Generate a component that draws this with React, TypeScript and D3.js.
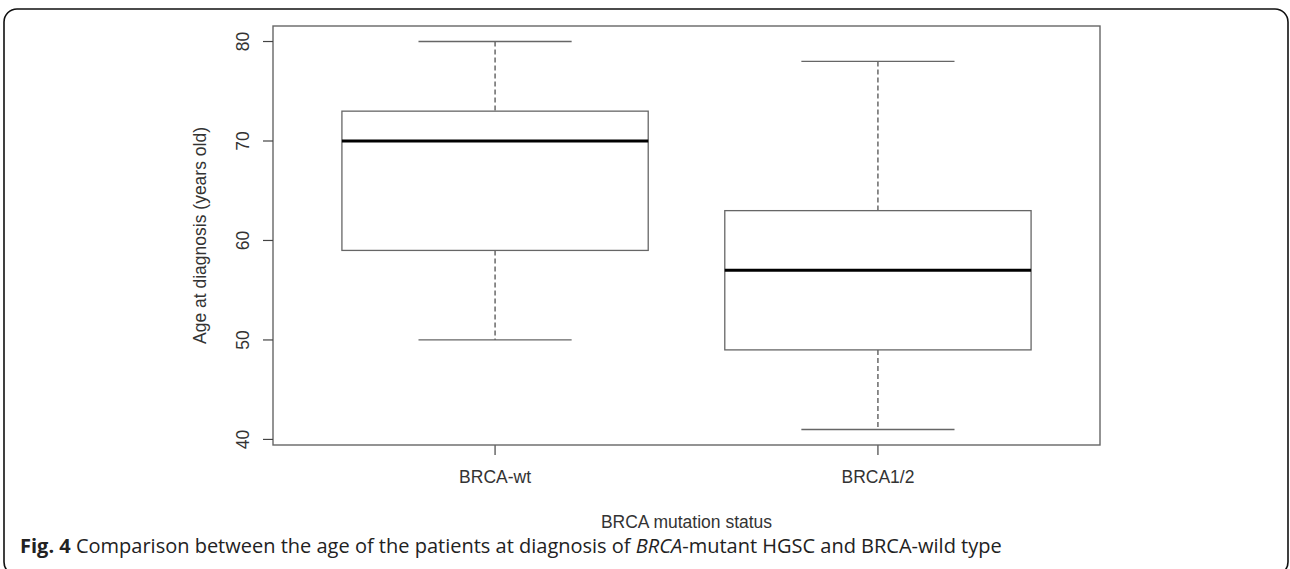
import React from "react";
import * as d3 from "d3";

const categories = ["BRCA-wt", "BRCA1/2"];
const lowerWhisker = [50, 41];
const q1 = [59, 49];
const medians = [70, 57];
const q3 = [73, 63];
const upperWhisker = [80, 78];
const yTicks = [40, 50, 60, 70, 80];

const W = 1290;
const H = 569;
const frame = { left: 273, right: 1100, top: 26, bottom: 445 };

export default function App() {
  const yMin = d3.min(lowerWhisker)!;
  const yMax = d3.max(upperWhisker)!;
  const ext = (yMax - yMin) * 0.04;
  const y = d3.scaleLinear().domain([yMin - ext, yMax + ext]).range([frame.bottom, frame.top]);
  const n = categories.length;
  const xExt = n * 0.04;
  const x = d3.scaleLinear().domain([0.5 - xExt, n + 0.5 + xExt]).range([frame.left, frame.right]);
  const halfBox = x(0.4) - x(0);
  const halfCap = x(0.2) - x(0);
  const axisFont = "'Liberation Sans', Arial, sans-serif";
  const textFill = "#333";
  const lineGray = "#666";
  const cy = (frame.top + frame.bottom) / 2;
  const cx = (frame.left + frame.right) / 2;

  return (
    <div style={{ position: "absolute", left: 0, top: 0 }}>
      <svg width={W} height={H} style={{ display: "block", background: "#fff" }}>
        <rect x={4} y={9} width={1284} height={566} rx={13} ry={13} fill="none" stroke="#111" strokeWidth={1.6} />
        {categories.map((c, i) => {
          const xc = x(i + 1);
          return (
            <g key={c}>
              <line x1={xc} x2={xc} y1={y(upperWhisker[i])} y2={y(q3[i])} stroke="#444" strokeWidth={1.2} strokeDasharray="5,3" />
              <line x1={xc} x2={xc} y1={y(q1[i])} y2={y(lowerWhisker[i])} stroke="#444" strokeWidth={1.2} strokeDasharray="5,3" />
              <line x1={xc - halfCap} x2={xc + halfCap} y1={y(upperWhisker[i])} y2={y(upperWhisker[i])} stroke={lineGray} strokeWidth={1.3} />
              <line x1={xc - halfCap} x2={xc + halfCap} y1={y(lowerWhisker[i])} y2={y(lowerWhisker[i])} stroke={lineGray} strokeWidth={1.3} />
              <rect x={xc - halfBox} y={y(q3[i])} width={2 * halfBox} height={y(q1[i]) - y(q3[i])} fill="none" stroke={lineGray} strokeWidth={1.3} />
              <line x1={xc - halfBox} x2={xc + halfBox} y1={y(medians[i])} y2={y(medians[i])} stroke="#000" strokeWidth={3} />
              <line x1={xc} x2={xc} y1={frame.bottom} y2={frame.bottom + 10} stroke="#444" strokeWidth={1.2} />
              <text x={xc} y={483} textAnchor="middle" fontFamily={axisFont} fontSize={17.5} fill={textFill}>{c}</text>
            </g>
          );
        })}
        <rect x={frame.left} y={frame.top} width={frame.right - frame.left} height={frame.bottom - frame.top} fill="none" stroke={lineGray} strokeWidth={1.4} />
        {yTicks.map((t) => (
          <g key={t}>
            <line x1={frame.left - 10} x2={frame.left} y1={y(t)} y2={y(t)} stroke="#444" strokeWidth={1.2} />
            <text transform={`translate(249,${y(t)}) rotate(-90)`} textAnchor="middle" fontFamily={axisFont} fontSize={17.5} fill={textFill}>{t}</text>
          </g>
        ))}
        <text transform={`translate(206,${cy}) rotate(-90)`} textAnchor="middle" fontFamily={axisFont} fontSize={17.5} fill={textFill}>Age at diagnosis (years old)</text>
        <text x={cx} y={528} textAnchor="middle" fontFamily={axisFont} fontSize={17.5} fill={textFill}>BRCA mutation status</text>
        <text x={20} y={553} fontFamily="'Open Sans', sans-serif" fontSize={20} fill="#222">
          <tspan fontWeight="bold">Fig. 4</tspan>
          <tspan> Comparison between the age of the patients at diagnosis of </tspan>
          <tspan fontStyle="italic">BRCA</tspan>
          <tspan>-mutant HGSC and BRCA-wild type</tspan>
        </text>
      </svg>
    </div>
  );
}
